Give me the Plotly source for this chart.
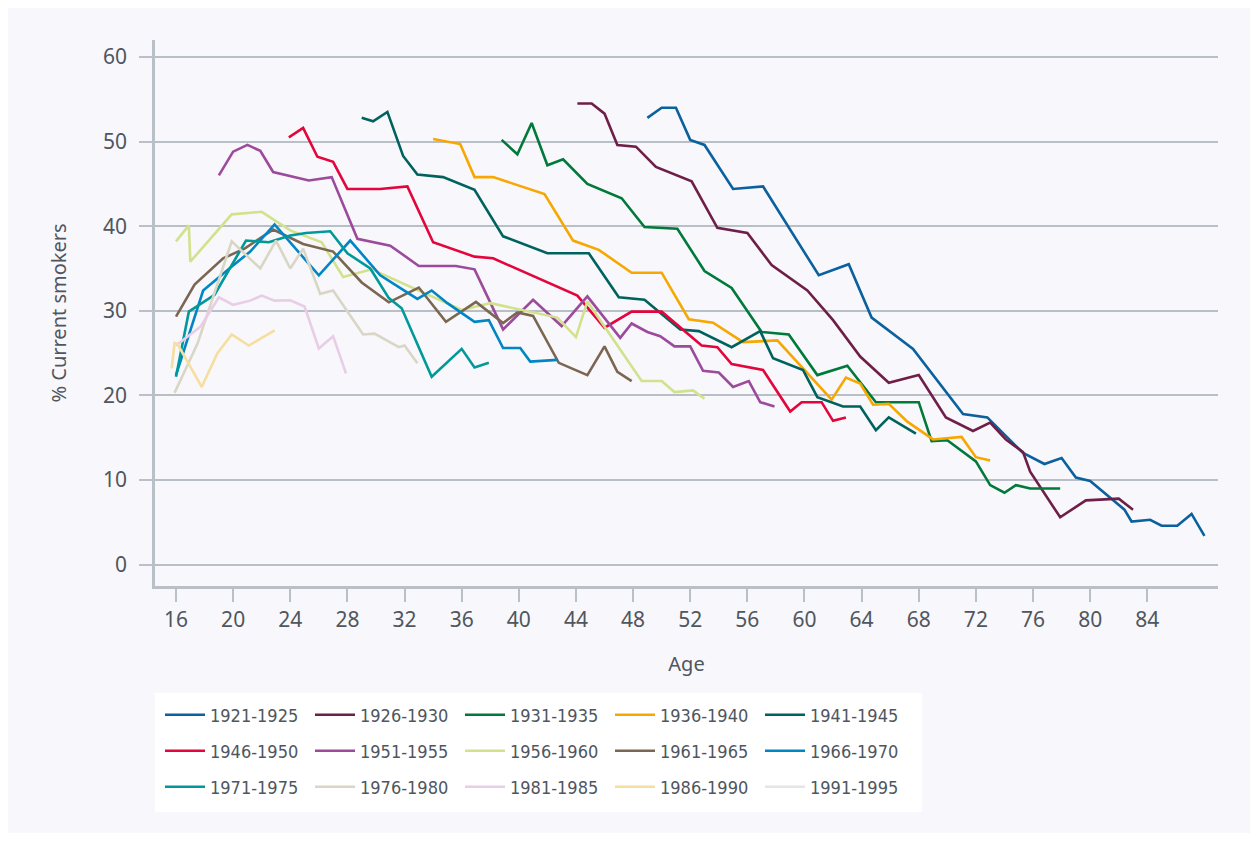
import plotly.graph_objects as go

# ---------------- data ----------------
cohorts = ["1921-1925", "1926-1930", "1931-1935", "1936-1940", "1941-1945",
           "1946-1950", "1951-1955", "1956-1960", "1961-1965", "1966-1970",
           "1971-1975", "1976-1980", "1981-1985", "1986-1990", "1991-1995"]

colors = ["#0b609e", "#6e1f48", "#00793a", "#f6a800", "#00625e",
          "#e2063c", "#9b4a9c", "#d2e28c", "#7b6651", "#0086c4",
          "#00999a", "#d9d6c6", "#e8cde6", "#f6de9f", "#e3e5e6"]

ages_1921 = [49, 50, 51, 52, 53, 55, 57.1, 61, 63.1, 64.7, 67.6, 71.1, 72.8, 75.3,
             76.8, 78, 79, 80, 82.4, 82.9, 84.2, 85, 86.1, 87.1, 88]
vals_1921 = [52.8, 54.0, 54.0, 50.2, 49.6, 44.4, 44.7, 34.2, 35.5, 29.2, 25.5, 17.8, 17.4, 13.2,
             11.9, 12.6, 10.3, 9.9, 6.5, 5.1, 5.3, 4.6, 4.6, 6.0, 3.4]

ages_1926 = [44.1, 45.1, 46, 46.9, 48.2, 49.6, 52.1, 53.9, 56, 57.7, 60.2, 62, 63.9,
             65.9, 68, 69.9, 71.8, 73, 74.1, 75.3, 75.8, 77.9, 79.7, 82, 83]
vals_1926 = [54.5, 54.5, 53.3, 49.6, 49.4, 47.0, 45.3, 39.8, 39.2, 35.4, 32.4, 28.9, 24.6,
             21.5, 22.4, 17.4, 15.8, 16.8, 14.8, 13.3, 11.0, 5.6, 7.6, 7.8, 6.5]

ages_1931 = [38.8, 39.9, 40.9, 42, 43.1, 44.8, 47.2, 48.8, 51.1, 53, 54.9, 57, 58.9,
             60.9, 63, 65, 68, 68.9, 70, 72, 73, 74, 74.8, 75.8, 77.9]
vals_1931 = [50.2, 48.5, 52.2, 47.2, 47.9, 45.0, 43.3, 39.9, 39.7, 34.7, 32.7, 27.5, 27.2,
             22.4, 23.5, 19.2, 19.2, 14.6, 14.7, 12.2, 9.4, 8.5, 9.4, 9.0, 9.0]

ages_1936 = [34, 35.9, 36.9, 38.2, 41.8, 43.8, 45.6, 47.9, 50, 51.9, 53.6, 55.7, 58.1,
             61.9, 62.9, 63.9, 64.8, 65.9, 67.2, 69, 71, 72, 73]
vals_1936 = [50.3, 49.7, 45.8, 45.8, 43.8, 38.3, 37.2, 34.5, 34.5, 29.0, 28.6, 26.3, 26.5,
             19.5, 22.1, 21.4, 18.9, 19.0, 16.9, 14.8, 15.1, 12.7, 12.3]

ages_1941 = [29, 29.8, 30.8, 31.9, 32.9, 34.7, 36.9, 38.9, 42, 44.9, 47, 48.8, 51.3,
             52.6, 54.9, 56.9, 57.8, 59.9, 60.9, 62.7, 63.9, 65, 65.9, 67.8]
vals_1941 = [52.8, 52.4, 53.5, 48.3, 46.1, 45.8, 44.3, 38.8, 36.8, 36.8, 31.6, 31.3, 27.8,
             27.6, 25.7, 27.6, 24.4, 23.0, 19.8, 18.7, 18.7, 15.9, 17.4, 15.5]

ages_1946 = [23.9, 24.9, 25.9, 27, 28, 30.3, 32.2, 34, 36.9, 38.2, 44.1, 46, 47.9, 50,
             52.8, 53.9, 54.9, 57.1, 59, 59.8, 61.2, 62, 62.9]
vals_1946 = [50.5, 51.6, 48.2, 47.6, 44.4, 44.4, 44.7, 38.1, 36.4, 36.2, 31.8, 28.0, 29.9, 29.9,
             25.9, 25.7, 23.7, 23.0, 18.1, 19.2, 19.2, 17.0, 17.4]

ages_1951 = [19, 20, 21, 21.9, 22.8, 25.3, 26.9, 28.7, 31, 33, 35.6, 36.9, 38.9, 41, 43,
             44.8, 47.1, 47.9, 49, 49.9, 50.9, 52, 52.9, 54, 55, 56.1, 56.9, 57.9]
vals_1951 = [46.0, 48.8, 49.6, 48.9, 46.4, 45.4, 45.8, 38.5, 37.7, 35.3, 35.3, 34.9, 27.8, 31.3, 28.2,
             31.7, 26.8, 28.5, 27.5, 27.0, 25.8, 25.8, 22.9, 22.7, 21.0, 21.7, 19.2, 18.7]

ages_1956 = [16, 16.9, 17, 19.9, 22, 24, 26.2, 27.7, 29.7, 36, 38, 42.7, 44, 44.8, 48.6,
             50, 50.9, 52.2, 53]
vals_1956 = [38.2, 40.1, 35.8, 41.4, 41.7, 39.5, 38.1, 34.0, 34.9, 30.1, 30.9, 29.2, 26.9, 31.1, 21.7,
             21.7, 20.4, 20.6, 19.6]

ages_1961 = [16, 17.3, 19.3, 20.8, 22.8, 24.9, 27, 29, 30.9, 33, 34.9, 37, 38.9, 39.9, 41,
             42.8, 44.8, 46, 46.9, 47.9]
vals_1961 = [29.3, 33.1, 36.2, 37.35, 39.6, 37.9, 37.0, 33.35, 31.0, 32.75, 28.7, 31.05, 28.55, 29.8, 29.4,
             23.85, 22.4, 25.8, 22.8, 21.7]

ages_1966 = [16, 17.9, 19.8, 21.2, 22.9, 26, 28.2, 30.3, 32.9, 33.9, 35, 36.9, 37.9, 38.9,
             40.1, 40.8, 42.7]
vals_1966 = [22.4, 32.4, 35.1, 37.0, 40.2, 34.2, 38.3, 34.2, 31.4, 32.4, 30.9, 28.7, 28.9, 25.6,
             25.6, 24.0, 24.2]

ages_1971 = [16, 16.9, 18.7, 20.9, 22.5, 24, 25.1, 26.8, 28, 29.6, 30.9, 31.8, 33.9, 36,
             36.9, 37.9]
vals_1971 = [22.2, 29.9, 31.9, 38.3, 38.1, 38.9, 39.2, 39.4, 36.8, 35.0, 31.5, 30.3, 22.2, 25.5,
             23.3, 23.85]

ages_1976 = [15.9, 17.5, 19.9, 21.9, 23, 24, 24.9, 26.1, 27, 29.1, 29.9, 31.6, 32, 32.9]
vals_1976 = [20.3, 26.1, 38.2, 35.0, 38.3, 35.0, 37.35, 32.0, 32.4, 27.2, 27.3, 25.7, 25.9, 23.8]

ages_1981 = [16, 17.7, 19, 20, 21.2, 22, 22.9, 24, 25, 26, 27, 27.9]
vals_1981 = [25.9, 28.1, 31.6, 30.7, 31.2, 31.8, 31.2, 31.25, 30.5, 25.55, 27.0, 22.6]

ages_1986 = [15.7, 15.9, 16.1, 17.8, 18.9, 19.9, 21.1, 22.9]
vals_1986 = [23.2, 26.2, 26.1, 21.0, 25.0, 27.2, 25.9, 27.7]

# only a single observation, hidden beneath the other cohorts
ages_1991 = [16]
vals_1991 = [22.2]

x_ticks = list(range(16, 85, 4))
y_ticks = [0, 10, 20, 30, 40, 50, 60]

series_ages = [ages_1921, ages_1926, ages_1931, ages_1936, ages_1941, ages_1946, ages_1951,
               ages_1956, ages_1961, ages_1966, ages_1971, ages_1976, ages_1981, ages_1986, ages_1991]
series_vals = [vals_1921, vals_1926, vals_1931, vals_1936, vals_1941, vals_1946, vals_1951,
               vals_1956, vals_1961, vals_1966, vals_1971, vals_1976, vals_1981, vals_1986, vals_1991]

# ---------------- layout geometry (pixels, figure coordinates) ----------------
W, H = 1242, 825
PL, PR, PT, PB = 147, 1210, 32, 578


def fx(p):
    return (p - PL) / (PR - PL)


def fy(p):
    return (PB - p) / (PB - PT)


TEXT = "#4f565e"
AXIS = "#b9c0c8"
GRID = "#b9bfc7"
BG = "#f8f7fb"
TICKFONT = dict(family="Noto Sans, Open Sans, sans-serif", size=21, color=TEXT)
LEGFONT = dict(family="Liberation Sans Narrow, DejaVu Sans Condensed, Noto Sans, sans-serif",
               size=18, color=TEXT)

legend_names = ["legend", "legend2", "legend3"]

fig = go.Figure()
for i, name in enumerate(cohorts):
    fig.add_trace(go.Scatter(
        x=series_ages[i], y=series_vals[i], mode="lines", name=name,
        line=dict(color=colors[i], width=2.6),
        legend=legend_names[i // 5], hoverinfo="skip",
    ))

row_y = [707, 743, 779]
leg_x = fx(152)
leg_common = dict(orientation="h", xanchor="left", yanchor="middle",
                  entrywidth=95, entrywidthmode="pixels", itemwidth=40,
                  bgcolor="rgba(0,0,0,0)", borderwidth=0, font=LEGFONT,
                  traceorder="normal", itemclick=False, itemdoubleclick=False)

fig.update_layout(
    width=W, height=H,
    margin=dict(l=PL, r=W - PR, t=PT, b=H - PB, pad=0, autoexpand=False),
    paper_bgcolor=BG,
    plot_bgcolor=BG,
    showlegend=True,
    legend=dict(x=leg_x, y=fy(row_y[0]), **leg_common),
    legend2=dict(x=leg_x, y=fy(row_y[1]), **leg_common),
    legend3=dict(x=leg_x, y=fy(row_y[2]), **leg_common),
    xaxis=dict(
        range=[14.53, 88.95], tickmode="array", tickvals=x_ticks,
        ticktext=[str(v) for v in x_ticks],
        ticks="outside", ticklen=13, tickwidth=2, tickcolor=AXIS,
        showline=True, linecolor=AXIS, linewidth=2.5,
        showgrid=False, zeroline=False, tickfont=TICKFONT, automargin=False,
        title=dict(text="Age", font=dict(family="Noto Sans, sans-serif", size=20, color=TEXT),
                   standoff=26),
    ),
    yaxis=dict(
        range=[-2.52, 62.0], tickmode="array", tickvals=y_ticks,
        ticks="outside", ticklen=13, tickwidth=2, tickcolor=AXIS,
        showline=True, linecolor=AXIS, linewidth=2.5,
        showgrid=True, gridcolor=GRID, gridwidth=1.5, zeroline=False,
        tickfont=TICKFONT, ticklabelstandoff=8, automargin=False,
        title=dict(text="% Current smokers", font=dict(family="Noto Sans, sans-serif", size=20, color=TEXT),
                   standoff=32),
    ),
    shapes=[
        dict(type="rect", xref="paper", yref="paper", layer="below",
             x0=fx(147), x1=fx(914), y0=fy(804), y1=fy(685),
             fillcolor="white", line=dict(width=0)),
    ],
)

fig.write_html("out.html")
